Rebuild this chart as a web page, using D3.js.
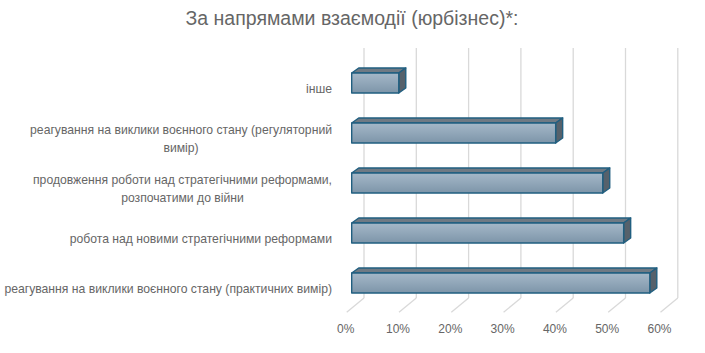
<!DOCTYPE html>
<html><head><meta charset="utf-8">
<script src="https://cdn.jsdelivr.net/npm/d3@7/dist/d3.min.js"></script>
<style>body{margin:0;background:#fff}svg{display:block}text{font-family:"Liberation Sans",Arial,sans-serif}</style>
</head><body>
<svg id="c" width="705" height="353"></svg>
<script>
const title = "За напрямами взаємодії (юрбізнес)*:";
const categories = [
  "інше",
  "реагування на виклики воєнного стану (регуляторний\nвимір)",
  "продовження роботи над стратегічними реформами,\nрозпочатими до війни",
  "робота над новими стратегічними реформами",
  "реагування на виклики воєнного стану (практичних вимір)"
];
const values = [0.09, 0.39, 0.48, 0.52, 0.57];
const ticks = [0, 0.1, 0.2, 0.3, 0.4, 0.5, 0.6];

const svg = d3.select("#c");
const textCol = "#666666";

// scales
const xBar = d3.scaleLinear().domain([0, 0.6]).range([351.7, 665.5]);
const xBack = d3.scaleLinear().domain([0, 0.6]).range([364, 677.8]);
const xFront = d3.scaleLinear().domain([0, 0.6]).range([346.7, 660.5]);
const y = d3.scaleBand().domain(categories).range([58, 308]).paddingInner(0.6).paddingOuter(0.3);
const backTop = 48, backBottom = 298, frontBottom = 312.3;
const dx = 7, dy = -5;

// title
svg.append("text").attr("x", 352).attr("y", 25).attr("text-anchor", "middle")
  .attr("font-size", 19.5).attr("fill", textCol).text(title);

// gridlines (back wall + floor)
const grid = svg.append("g").attr("stroke", "#d9d9d9").attr("stroke-width", 1.3).attr("fill", "none");
grid.selectAll("line.v").data(ticks).join("line").attr("class", "v")
  .attr("x1", d => xBack(d)).attr("x2", d => xBack(d)).attr("y1", backTop).attr("y2", backBottom);
grid.selectAll("line.f").data(ticks).join("line").attr("class", "f")
  .attr("x1", d => xBack(d)).attr("x2", d => xFront(d)).attr("y1", backBottom).attr("y2", frontBottom);

// gradient
const defs = svg.append("defs");
const g = defs.append("linearGradient").attr("id", "fg").attr("x1", 0).attr("y1", 0).attr("x2", 0).attr("y2", 1);
g.append("stop").attr("offset", "0%").attr("stop-color", "#a5b8c8");
g.append("stop").attr("offset", "100%").attr("stop-color", "#7d95a9");

// bars
const data = categories.map((c, i) => ({c, v: values[i]}));
const bars = svg.append("g").attr("stroke", "#215f80").attr("stroke-width", 1.4).attr("stroke-linejoin", "round");
const bh = y.bandwidth();
data.forEach(d => {
  const x0 = xBar(0), x1 = xBar(d.v), yt = y(d.c), yb = yt + bh;
  bars.append("polygon").attr("fill", "#6f7a84")
    .attr("points", [[x0, yt], [x0 + dx, yt + dy], [x1 + dx, yt + dy], [x1, yt]].join(" "));
  bars.append("polygon").attr("fill", "#56616b")
    .attr("points", [[x1, yt], [x1 + dx, yt + dy], [x1 + dx, yb + dy], [x1, yb]].join(" "));
  bars.append("rect").attr("x", x0).attr("y", yt).attr("width", x1 - x0).attr("height", bh).attr("fill", "url(#fg)");
});

// x axis labels
const ax = svg.append("g").attr("transform", `translate(-1.5,${322})`)
  .call(d3.axisBottom(xFront).tickValues(ticks).tickFormat(d3.format(".0%")).tickSize(0));
ax.select(".domain").remove();
ax.selectAll("text").attr("font-size", 12).attr("fill", textCol).attr("font-family", '"Liberation Sans",Arial,sans-serif').attr("dy", "0.71em").attr("y", 2);

// category labels
const labRight = 332, lh = 17.7;
data.forEach(d => {
  const lines = d.c.split("\n");
  const cy = y(d.c) + bh / 2 + 5.5;
  const t = svg.append("text").attr("font-size", 12.2).attr("fill", textCol).attr("text-anchor", "middle");
  const spans = lines.map((l, i) => t.append("tspan").text(l)
    .attr("y", cy + (i - (lines.length - 1) / 2) * lh).attr("dy", "0.35em"));
  const w = d3.max(spans, s => s.node().getComputedTextLength());
  spans.forEach(s => s.attr("x", labRight - w / 2));
});
</script>
</body></html>
